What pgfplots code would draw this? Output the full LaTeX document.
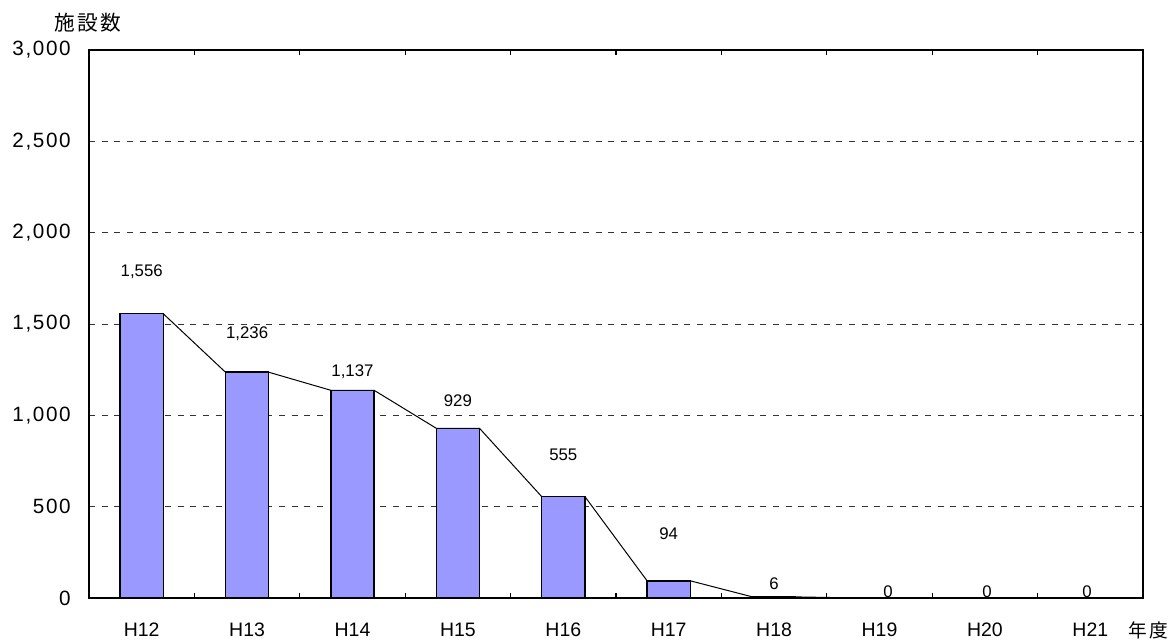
\documentclass[border=0pt]{standalone}
\usepackage{fontspec}
\setmainfont{Liberation Sans}
\newfontfamily\jp{Noto Sans CJK JP}[LetterSpace=12]
\newfontfamily\ytf{Liberation Sans}[LetterSpace=8]
\usepackage{pgfplots}
\pgfplotsset{compat=1.18}
\definecolor{barfill}{HTML}{9999FF}
\pgfplotstableread{
x y label
0 1785 {1,556}
1 1445 {1,236}
2 1240 {1,137}
3 1078 929
4 783 555
5 350 94
6 79 6
7.08 33 0
8.02 33 0
8.97 33 0
}\labtable
\begin{document}
\begin{tikzpicture}[x=1pt,y=1pt]
\useasboundingbox (0,0) rectangle (881.25,480.75);
\begin{axis}[
  at={(66.75pt,32.25pt)}, anchor=south west,
  scale only axis, width=790.5pt, height=411pt,
  xmin=-0.5, xmax=9.5, ymin=0, ymax=3000,
  axis line style={line width=1.1pt},
  xtick={0,...,9},
  xticklabels={H12,H13,H14,H15,H16,H17,H18,H19,H20,H21},
  major x tick style={draw=none},
  minor xtick={0.5,1.5,...,8.5},
  minor x tick style={line width=0.8pt, black},
  minor tick length=4pt,
  tick align=inside,
  ytick={0,500,1000,1500,2000,2500,3000},
  yticklabels={0,500,{1,000},{1,500},{2,000},{2,500},{3,000}},
  major y tick style={draw=none},
  ymajorgrids,
  grid style={black!80, line width=0.7pt, dash pattern=on 4.5pt off 5pt},
  xticklabel style={font=\fontsize{14.6}{14.6}\selectfont, inner sep=0pt, anchor=north, yshift=-18.5pt},
  yticklabel style={font=\ytf\fontsize{15.5}{15.5}\selectfont, inner sep=0pt, anchor=east, xshift=-13.5pt},
  clip=false,
]
\addplot[black, line width=0.75pt] coordinates {
(-0.205,1556) (0.205,1556)
(0.795,1236) (1.205,1236)
(1.795,1137) (2.205,1137)
(2.795,929) (3.205,929)
(3.795,555) (4.205,555)
(4.795,94) (5.205,94)
(5.795,6) (6.205,6)
(6.795,0) (7.205,0)
(7.795,0) (8.205,0)
(8.795,0) (9.205,0)
};
\addplot[ybar, bar width=0.41, bar shift=0, fill=barfill, draw=black, line width=1.1pt] coordinates {
(0,1556) (1,1236) (2,1137) (3,929) (4,555) (5,94) (6,6) (7,0) (8,0) (9,0)
};
\addplot[draw=none, mark=none, nodes near coords={\pgfplotspointmeta}, point meta=explicit symbolic,
  nodes near coords style={anchor=center, inner sep=0pt, font=\fontsize{12.6}{12.6}\selectfont}]
  table[x=x, y=y, meta=label] {\labtable};
\end{axis}
\node[font=\jp\fontsize{15.5}{15.5}\selectfont, inner sep=0pt] at (66,463.5) {施設数};
\node[font=\jp\fontsize{14}{14}\selectfont, inner sep=0pt] at (861,8.25) {年度};
\end{tikzpicture}
\end{document}
